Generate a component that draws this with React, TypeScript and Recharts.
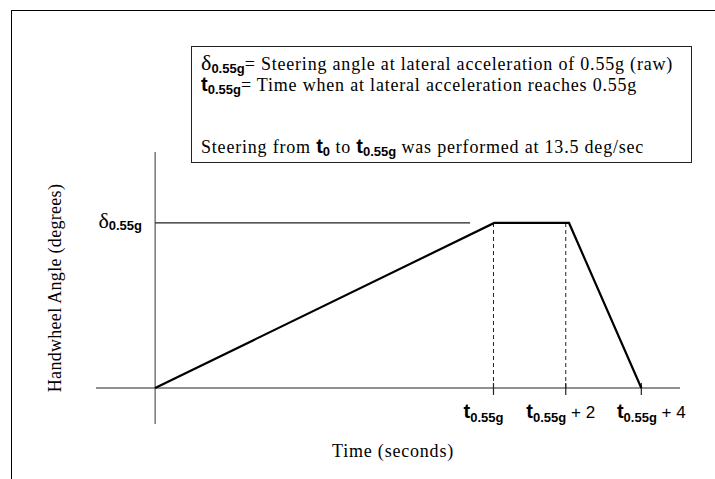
import { LineChart, Line, XAxis, YAxis, ReferenceLine } from "recharts";

// steering trace: time (s, relative) vs normalised handwheel angle
const times = [0, 9.29, 11.34, 13.32];
const angles = [0, 1, 1, 0];

// x tick positions and their label suffixes
const tickTimes = [9.27, 11.25, 13.32];
const tickSuffix = ["", " + 2", " + 4"];
const tickShift = [-10, -5, 10]; // label nudges, px
const deltaLevel = 1;
const deltaLineEnd = 8.63;

const data = times.map((t, i) => ({ t, angle: angles[i] }));

const SERIF = "'Liberation Serif', 'Times New Roman', serif";
const SANS = "'Liberation Sans', Arial, sans-serif";

const XTick = (props: any) => {
  const { x, y, index } = props;
  return (
    <text x={x + tickShift[index]} y={y - 6} textAnchor="middle" fill="#000" fontFamily={SANS} fontWeight="bold">
      <tspan fontSize={20}>t</tspan>
      <tspan fontSize={13} dy={4}>0.55g</tspan>
      <tspan fontSize={17} dy={-4} fontWeight="normal">{tickSuffix[index]}</tspan>
    </text>
  );
};

const YTick = (props: any) => {
  const { x, y } = props;
  return (
    <text x={x + 46} y={y + 5} textAnchor="end" fill="#000">
      <tspan fontFamily={SERIF} fontSize={22}>δ</tspan>
      <tspan fontFamily={SANS} fontWeight="bold" fontSize={13} dy={2}>0.55g</tspan>
    </text>
  );
};

const YTitle = (props: any) => {
  const { viewBox } = props;
  const cx = viewBox.x + 19;
  const cy = viewBox.y + viewBox.height / 2;
  return (
    <text x={cx} y={cy} transform={`rotate(-90 ${cx} ${cy})`} textAnchor="middle" dominantBaseline="central"
      fontFamily={SERIF} fontSize={18} letterSpacing={0.3} fill="#000">
      Handwheel Angle (degrees)
    </text>
  );
};

const XTitle = (props: any) => {
  const { viewBox } = props;
  return (
    <text x={viewBox.x + 297} y={viewBox.y + 33} textAnchor="middle" fontFamily={SERIF} fontSize={18}
      letterSpacing={0.8} fill="#000">
      Time (seconds)
    </text>
  );
};

export default function App() {
  return (
    <div style={{ position: "absolute", left: 0, top: 0, width: 715, height: 479, background: "#fff", overflow: "hidden" }}>
      <div style={{ position: "absolute", left: 11, top: 10, right: 0, bottom: 0, borderTop: "1px solid #000", borderLeft: "1px solid #000" }} />
      <LineChart width={715} height={479} data={data} margin={{ top: 152, right: 35, bottom: 25, left: 36 }}>
        <XAxis dataKey="t" type="number" domain={[-1.62, 14.38]} allowDataOverflow ticks={tickTimes}
          axisLine={false} tickLine={false} tickSize={0} tickMargin={0} height={30} tick={<XTick />}
          interval={0} label={<XTitle />} />
        <YAxis type="number" domain={[-0.218, 1.43]} allowDataOverflow ticks={[deltaLevel]}
          axisLine={false} tickLine={false} tickSize={0} tickMargin={0} width={60} tick={<YTick />}
          label={<YTitle />} />
        <ReferenceLine x={0} stroke="#555" strokeWidth={1.2} />
        <ReferenceLine y={0} stroke="#222" strokeWidth={1.2} />
        <ReferenceLine segment={[{ x: 0, y: deltaLevel }, { x: deltaLineEnd, y: deltaLevel }]} stroke="#222" strokeWidth={1.2} />
        {tickTimes.slice(0, 2).map((tt) => (
          <ReferenceLine key={"d" + tt} segment={[{ x: tt, y: 0 }, { x: tt, y: deltaLevel }]} stroke="#222" strokeDasharray="4 3" />
        ))}
        {tickTimes.map((tt) => (
          <ReferenceLine key={"k" + tt} segment={[{ x: tt, y: 0.03 }, { x: tt, y: -0.042 }]} stroke="#222" strokeWidth={1.2} />
        ))}
        <Line type="linear" dataKey="angle" stroke="#000" strokeWidth={2.2} dot={false} isAnimationActive={false} />
      </LineChart>
      <svg width={715} height={479} style={{ position: "absolute", left: 0, top: 0, pointerEvents: "none" }}>
        <rect x={191.5} y={46.5} width={500} height={116} fill="none" stroke="#222" />
        <text x={201} y={70} fill="#000">
          <tspan fontFamily={SERIF} fontSize={22}>δ</tspan>
          <tspan fontFamily={SANS} fontWeight="bold" fontSize={13} dy={3}>0.55g</tspan>
          <tspan fontFamily={SERIF} fontSize={18} letterSpacing={0.8} dy={-3}>= Steering angle at lateral acceleration of 0.55g (raw)</tspan>
        </text>
        <text x={201} y={91} fill="#000">
          <tspan fontFamily={SANS} fontWeight="bold" fontSize={20}>t</tspan>
          <tspan fontFamily={SANS} fontWeight="bold" fontSize={13} dy={3}>0.55g</tspan>
          <tspan fontFamily={SERIF} fontSize={18} letterSpacing={0.8} dy={-3}>= Time when at lateral acceleration reaches 0.55g</tspan>
        </text>
        <text x={201} y={153} fill="#000" fontFamily={SERIF} fontSize={18}>
          <tspan letterSpacing={0.8}>Steering from </tspan>
          <tspan fontFamily={SANS} fontWeight="bold" fontSize={20}>t</tspan>
          <tspan fontFamily={SANS} fontWeight="bold" fontSize={13} dy={3}>0</tspan>
          <tspan letterSpacing={0.8} dy={-3}> to </tspan>
          <tspan fontFamily={SANS} fontWeight="bold" fontSize={20}>t</tspan>
          <tspan fontFamily={SANS} fontWeight="bold" fontSize={13} dy={3}>0.55g</tspan>
          <tspan letterSpacing={0.8} dy={-3}> was performed at 13.5 deg/sec</tspan>
        </text>
      </svg>
    </div>
  );
}
